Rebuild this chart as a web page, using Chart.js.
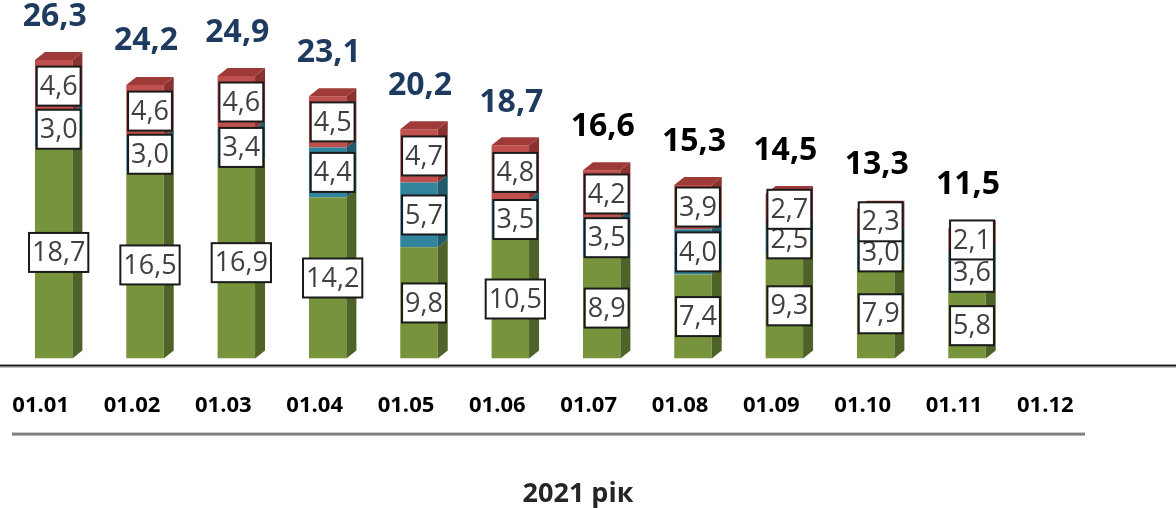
<!DOCTYPE html>
<html>
<head>
<meta charset="utf-8">
<script src="https://cdn.jsdelivr.net/npm/chart.js@4.4.1/dist/chart.umd.min.js"></script>
<style>
html,body{margin:0;padding:0;background:#fff;}
#wrap{width:1176px;height:508px;position:relative;}
</style>
</head>
<body>
<div id="wrap"><canvas id="c" width="1176" height="508"></canvas></div>
<script>
const categories = ['01.01','01.02','01.03','01.04','01.05','01.06','01.07','01.08','01.09','01.10','01.11','01.12'];
const greenValues = [18.7,16.5,16.9,14.2,9.8,10.5,8.9,7.4,9.3,7.9,5.8,null];
const tealValues  = [3.0,3.0,3.4,4.4,5.7,3.5,3.5,4.0,2.5,3.0,3.6,null];
const redValues   = [4.6,4.6,4.6,4.5,4.7,4.8,4.2,3.9,2.7,2.3,2.1,null];
const totalValues = [26.3,24.2,24.9,23.1,20.2,18.7,16.6,15.3,14.5,13.3,11.5,null];
const titleText = '2021 рік';

const FRONT = ['#77933C','#31849B','#C0504D'];
const SIDE  = ['#4F6228','#215A6A','#8A3230'];
const TOP   = ['#5F7630','#27697B','#9E3A37'];
const DX = 10, DY = 8, SHIFT = -5;
const FONT = "'Open Sans', 'Noto Sans', sans-serif";

function fmt(v){ return v.toFixed(1).replace('.', ','); }

const bar3d = {
  id: 'bar3d',
  beforeDatasetsDraw(chart){
    chart.ctx.save();
    chart.ctx.translate(SHIFT, 0);
  },
  afterDatasetsDraw(chart){
    const ctx = chart.ctx;
    const n = chart.data.datasets.length;
    for (let d = 0; d < n; d++) {
      const meta = chart.getDatasetMeta(d);
      meta.data.forEach((el, i) => {
        const v = chart.data.datasets[d].data[i];
        if (v == null) return;
        const p = el.getProps(['x','y','base','width'], true);
        const r = p.x + p.width/2, l = p.x - p.width/2;
        ctx.fillStyle = SIDE[d];
        ctx.beginPath();
        ctx.moveTo(r, p.base);
        ctx.lineTo(r, p.y);
        ctx.lineTo(r+DX, p.y-DY);
        ctx.lineTo(r+DX, p.base-DY);
        ctx.closePath();
        ctx.fill();
        if (d === n-1) {
          ctx.fillStyle = TOP[d];
          ctx.beginPath();
          ctx.moveTo(l, p.y);
          ctx.lineTo(r, p.y);
          ctx.lineTo(r+DX, p.y-DY);
          ctx.lineTo(l+DX, p.y-DY);
          ctx.closePath();
          ctx.fill();
        }
      });
    }
    ctx.restore();

    // segment labels in boxes
    ctx.save();
    ctx.font = "27px " + FONT;
    ctx.textAlign = 'center';
    ctx.textBaseline = 'middle';
    for (let d = 0; d < n; d++) {
      const meta = chart.getDatasetMeta(d);
      meta.data.forEach((el, i) => {
        const v = chart.data.datasets[d].data[i];
        if (v == null) return;
        const p = el.getProps(['x','y','base'], true);
        const cx = p.x, cy = (p.y + p.base)/2;
        const txt = fmt(v);
        const w = ctx.measureText(txt).width + 6, h = 39;
        ctx.fillStyle = '#fff';
        ctx.fillRect(cx - w/2, cy - h/2, w, h);
        ctx.strokeStyle = '#1a1a1a';
        ctx.lineWidth = 2;
        ctx.strokeRect(cx - w/2, cy - h/2, w, h);
        ctx.fillStyle = '#404040';
        ctx.fillText(txt, cx, cy + 1);
      });
    }
    // totals
    const topMeta = chart.getDatasetMeta(n-1);
    const ys = chart.scales.y;
    ctx.font = "bold 32px " + FONT;
    totalValues.forEach((t, i) => {
      if (t == null) return;
      const x = topMeta.data[i].x - 4;
      const y = ys.getPixelForValue(t) - 43;
      ctx.fillStyle = i < 6 ? '#1F3A5F' : '#000000';
      ctx.fillText(fmt(t), x, y);
    });
    // axis line and separator
    const ca = chart.chartArea;
    ctx.fillStyle = '#111';
    ctx.fillRect(0, ca.bottom + 6, chart.width, 2);
    ctx.fillStyle = '#9a9a9a';
    ctx.fillRect(0, ca.bottom + 8, chart.width, 1);
    ctx.fillStyle = '#808080';
    ctx.fillRect(12, ca.bottom + 74, 1073, 3);
    // axis title
    ctx.fillStyle = '#262626';
    ctx.font = "bold 27px " + FONT;
    ctx.fillText(titleText, 578, 494);
    ctx.restore();
  }
};

new Chart(document.getElementById('c'), {
  type: 'bar',
  data: {
    labels: categories,
    datasets: [
      { label: 'green', data: greenValues, backgroundColor: FRONT[0] },
      { label: 'teal', data: tealValues, backgroundColor: FRONT[1] },
      { label: 'red', data: redValues, backgroundColor: FRONT[2] }
    ]
  },
  options: {
    responsive: false,
    animation: false,
    devicePixelRatio: 1,
    layout: { padding: { left: 13, right: 67, top: 18, bottom: 55 } },
    plugins: { legend: { display: false }, tooltip: { enabled: false } },
    datasets: { bar: { categoryPercentage: 1, barPercentage: 0.41 } },
    scales: {
      x: {
        stacked: true,
        grid: { display: false, drawTicks: false },
        border: { display: false },
        afterFit: (scale) => { scale.paddingLeft = 0; scale.paddingRight = 0; },
        ticks: { color: '#000', font: { family: FONT, size: 22, weight: 'bold' }, padding: 34, maxRotation: 0, labelOffset: -18 }
      },
      y: {
        stacked: true,
        display: false,
        min: 0,
        max: 30
      }
    }
  },
  plugins: [bar3d]
});
</script>
</body>
</html>
